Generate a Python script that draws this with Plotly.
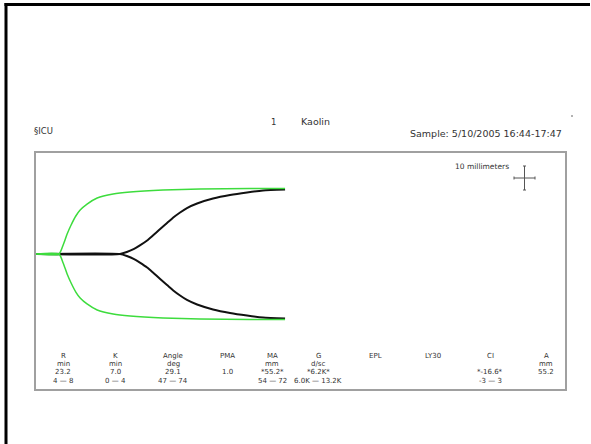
import plotly.graph_objects as go

# Sample (black) tracing: time in minutes, amplitude in mm
sample_t = [0, 23.2, 25.1, 27.1, 28.7, 30.7, 32.3, 34.3, 36.2, 38.1, 39.8, 41.7, 44.5, 48.9, 53.6, 58.3, 62.7, 68.8]
sample_amp = [0, 0, 1.7, 4.3, 7.3, 11.5, 15.8, 21.4, 26.5, 31.6, 35.5, 39.3, 43.2, 47.4, 50.4, 52.6, 54.3, 55.2]

# Normal reference (green) tracing
normal_t = [0, 6.35, 7.5, 8.6, 9.7, 11.0, 12.2, 14.1, 16.9, 21.3, 26.0, 35.1, 45.3, 59.1, 68.8]
normal_amp = [0, 0, 7.7, 17.1, 24.8, 32.5, 37.6, 42.7, 47.9, 51.3, 53.0, 54.7, 55.6, 56.0, 56.0]

# Parameter table
param_names = ["R", "K", "Angle", "PMA", "MA", "G", "EPL", "LY30", "CI", "A"]
param_units = ["min", "min", "deg", "", "mm", "d/sc", "", "", "", "mm"]
param_values = ["23.2", "7.0", "29.1", "1.0", "*55.2*", "*6.2K*", "", "", "*-16.6*", "55.2"]
param_ranges = ["4 \u2014 8", "0 \u2014 4", "47 \u2014 74", "", "54 \u2014 72", "6.0K \u2014 13.2K", "", "", "-3 \u2014 3", ""]
param_x_px = [63, 115, 173, 227, 272, 318, 375, 433, 490, 546]

title_left = "\u00a7ICU"
title_num = "1"
title_name = "Kaolin"
title_sample = "Sample: 5/10/2005 16:44-17:47"

W, H = 591, 444
L, R_, T, B = 36, 565, 153, 389  # plot box in px


def px(x):
    return (x - L) / (R_ - L)


def py(y):
    return (B - y) / (B - T)


fig = go.Figure()

black = "#111111"
green = "#3ddc3d"

fig.add_trace(go.Scatter(x=sample_t, y=[a / 2 for a in sample_amp], mode="lines",
                         line=dict(color=black, width=2, shape="spline", smoothing=0.6), hoverinfo="skip"))
fig.add_trace(go.Scatter(x=sample_t, y=[-a / 2 for a in sample_amp], mode="lines",
                         line=dict(color=black, width=2, shape="spline", smoothing=0.6), hoverinfo="skip"))
fig.add_trace(go.Scatter(x=normal_t, y=[a / 2 for a in normal_amp], mode="lines",
                         line=dict(color=green, width=1.5, shape="spline", smoothing=0.6), hoverinfo="skip"))
fig.add_trace(go.Scatter(x=normal_t, y=[-a / 2 for a in normal_amp], mode="lines",
                         line=dict(color=green, width=1.5, shape="spline", smoothing=0.6), hoverinfo="skip"))

px_per_min = 3.62
px_per_mm = 2.34
xmax = (R_ - L) / px_per_min
ytop = (254 - T) / px_per_mm
ybot = -(B - 254) / px_per_mm

fig.update_xaxes(range=[0, xmax], showgrid=False, zeroline=False, showticklabels=False,
                 ticks="", showline=True, mirror=True, linecolor="#a0a0a0", linewidth=1.5)
fig.update_yaxes(range=[ybot, ytop], showgrid=False, zeroline=False, showticklabels=False,
                 ticks="", showline=True, mirror=True, linecolor="#a0a0a0", linewidth=1.5)

shapes = []
# outer black frame (left and top)
shapes.append(dict(type="line", xref="paper", yref="paper", x0=px(6), x1=px(6), y0=py(3), y1=py(450),
                   line=dict(color="black", width=3)))
shapes.append(dict(type="line", xref="paper", yref="paper", x0=px(4.5), x1=px(590), y0=py(4.5), y1=py(4.5),
                   line=dict(color="black", width=3)))
# scale cross
cc = "#555555"
shapes += [
    dict(type="line", xref="paper", yref="paper", x0=px(514), x1=px(535), y0=py(178), y1=py(178), line=dict(color=cc, width=1)),
    dict(type="line", xref="paper", yref="paper", x0=px(524.5), x1=px(524.5), y0=py(166), y1=py(190), line=dict(color=cc, width=1)),
    dict(type="line", xref="paper", yref="paper", x0=px(514), x1=px(514), y0=py(176.5), y1=py(179.5), line=dict(color=cc, width=1)),
    dict(type="line", xref="paper", yref="paper", x0=px(535), x1=px(535), y0=py(176.5), y1=py(179.5), line=dict(color=cc, width=1)),
    dict(type="line", xref="paper", yref="paper", x0=px(523), x1=px(526), y0=py(166), y1=py(166), line=dict(color=cc, width=1)),
    dict(type="line", xref="paper", yref="paper", x0=px(523), x1=px(526), y0=py(190), y1=py(190), line=dict(color=cc, width=1)),
    dict(type="line", xref="paper", yref="paper", x0=px(571), x1=px(573), y0=py(116), y1=py(116), line=dict(color="#666", width=1)),
]

tc = "#333333"
font = "DejaVu Sans"
ann = []


def add_text(text, x, y, size=8, anchor="center"):
    ann.append(dict(text=text, x=px(x), y=py(y), xref="paper", yref="paper", showarrow=False,
                    xanchor=anchor, yanchor="middle", font=dict(family=font, size=size, color=tc)))


add_text(title_left, 32, 131, 8.5, "left")
add_text(title_num, 273, 122, 8.5, "center")
add_text(title_name, 299, 122, 9.5, "left")
add_text(title_sample, 564, 133, 9.5, "right")
add_text("10 millimeters", 511, 166, 7.5, "right")

for i, name in enumerate(param_names):
    x = param_x_px[i]
    add_text(name, x, 356, 7)
    if param_units[i]:
        add_text(param_units[i], x, 364, 7)
    if param_values[i]:
        add_text(param_values[i], x, 372, 7)
    if param_ranges[i]:
        add_text(param_ranges[i], x, 381, 7)

fig.update_layout(width=W, height=H, margin=dict(l=L, r=W - R_, t=T, b=H - B),
                  paper_bgcolor="white", plot_bgcolor="white", showlegend=False,
                  shapes=shapes, annotations=ann)

fig.write_html("out.html", config={"displayModeBar": False},
               post_script="document.body.style.margin='0';document.body.style.overflow='hidden';")
